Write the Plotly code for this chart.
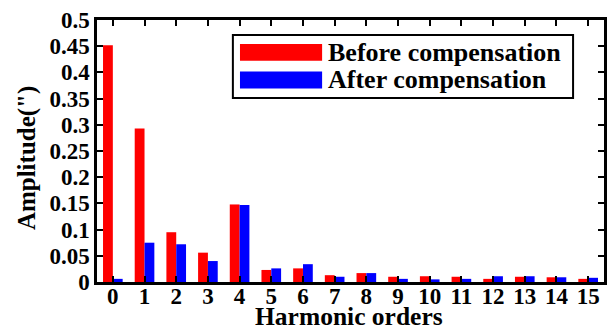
import plotly.graph_objects as go

# Harmonic orders and spectrum amplitudes (arc-seconds)
orders = list(range(16))
before = [0.452, 0.293, 0.095, 0.056, 0.148, 0.023, 0.026, 0.013, 0.017, 0.010,
          0.011, 0.010, 0.006, 0.010, 0.009, 0.006]
after = [0.006, 0.075, 0.072, 0.040, 0.147, 0.026, 0.034, 0.010, 0.017, 0.006,
         0.005, 0.006, 0.011, 0.011, 0.009, 0.008]
series_names = ["Before compensation", "After compensation"]
series_colors = ["#ff0000", "#0000ff"]
y_ticks = [0, 0.05, 0.1, 0.15, 0.2, 0.25, 0.3, 0.35, 0.4, 0.45, 0.5]
y_tick_text = ["0", "0.05", "0.1", "0.15", "0.2", "0.25", "0.3", "0.35", "0.4", "0.45", "0.5"]
x_title = "Harmonic orders"
y_title = 'Amplitude(")'

FONT = "Liberation Serif"

fig = go.Figure()
for name, vals, col in zip(series_names, [before, after], series_colors):
    fig.add_trace(go.Bar(x=orders, y=vals, name=name, marker=dict(color=col, line=dict(width=0)),
                         showlegend=False))

axis_common = dict(showline=True, linecolor="black", linewidth=2.5, mirror="ticks",
                   ticks="inside", ticklen=6, tickwidth=2, tickcolor="black",
                   showgrid=False, zeroline=False, automargin=False)

fig.update_xaxes(**axis_common, tickvals=orders, ticktext=[str(o) for o in orders],
                 range=[-0.5, 15.5], ticklabelstandoff=-8,
                 tickfont=dict(family=FONT, size=23, color="black", weight="bold"))
fig.update_yaxes(**axis_common, tickvals=y_ticks, ticktext=y_tick_text, range=[0, 0.5],
                 tickfont=dict(family=FONT, size=23, color="black", weight="bold"))

# Legend box drawn in paper coordinates with wide colour swatches
shapes = [dict(type="rect", xref="paper", yref="paper", x0=0.268, x1=0.939, y0=0.702, y1=0.943,
               line=dict(color="black", width=2), fillcolor="white", layer="above")]
swatch_y = [(0.844, 0.908), (0.739, 0.803)]
for (y0, y1), col in zip(swatch_y, series_colors):
    shapes.append(dict(type="rect", xref="paper", yref="paper", x0=0.282, x1=0.444, y0=y0, y1=y1,
                       line=dict(width=0), fillcolor=col, layer="above"))
annotations = []
for (y0, y1), name in zip(swatch_y, series_names):
    annotations.append(dict(xref="paper", yref="paper", x=0.452, y=(y0 + y1) / 2, text=name,
                            showarrow=False, xanchor="left", yanchor="middle",
                            font=dict(family=FONT, size=26, color="black", weight="bold")))

# Axis titles
annotations.append(dict(xref="paper", yref="paper", x=0.497, y=-0.1947, text=x_title,
                        showarrow=False, xanchor="center", yanchor="bottom",
                        font=dict(family=FONT, size=25.5, color="black", weight="bold")))
annotations.append(dict(xref="paper", yref="paper", x=-0.138, y=0.473, text=y_title,
                        showarrow=False, xanchor="center", yanchor="middle", textangle=-90,
                        font=dict(family=FONT, size=25, color="black", weight="bold")))

fig.update_layout(width=616, height=333, margin=dict(l=97, r=12, t=20, b=51),
                  paper_bgcolor="white", plot_bgcolor="white",
                  barmode="group", bargap=0.38, bargroupgap=0,
                  shapes=shapes, annotations=annotations)

fig.write_html("out.html")
